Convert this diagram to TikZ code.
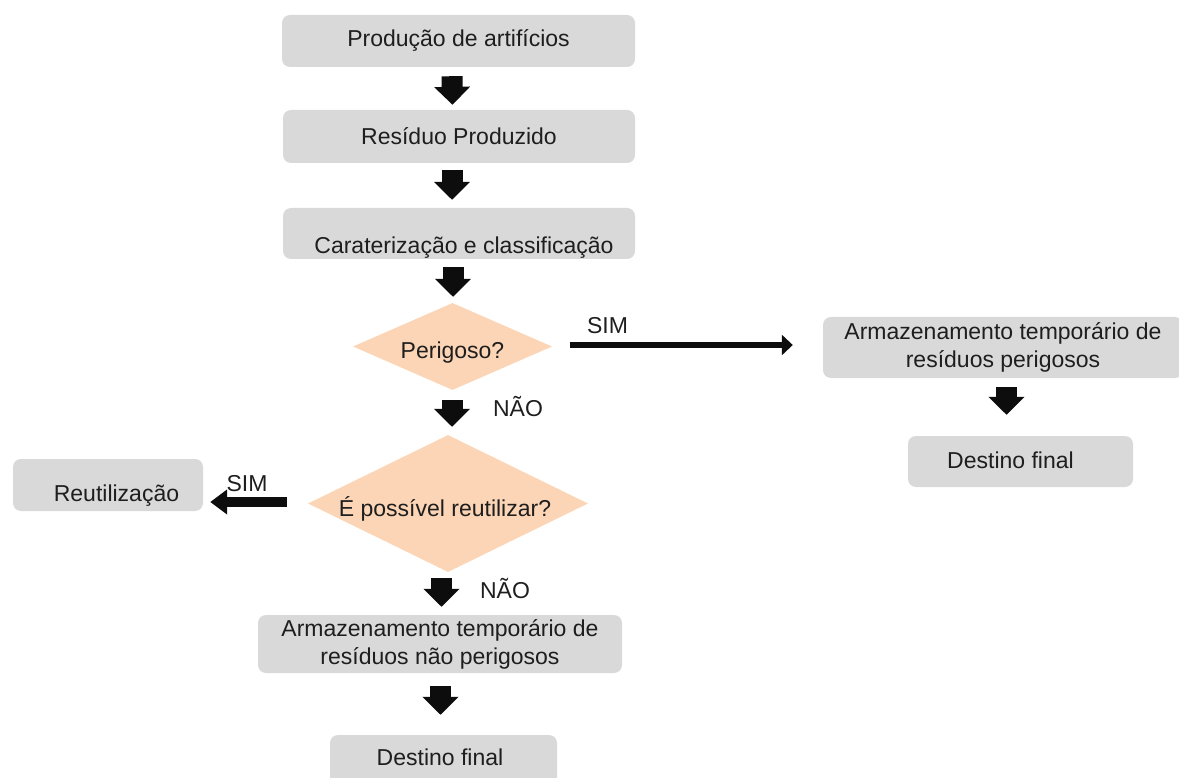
\documentclass[tikz,border=0pt]{standalone}
\usepackage{fontspec}
\setmainfont{Liberation Sans}
\usetikzlibrary{shapes.geometric,arrows.meta}
\definecolor{boxgray}{HTML}{D9D9D9}
\definecolor{peach}{HTML}{FBD5B5}
\definecolor{ink}{HTML}{1E1E1E}
\definecolor{arrowink}{HTML}{0D0D0D}
\begin{document}
\begin{tikzpicture}[x=1pt,y=-1pt,
  every node/.style={font=\fontsize{23}{28}\selectfont, text=ink},
  boxbase/.style={rectangle, rounded corners=8pt, fill=boxgray, inner sep=0pt, align=center},
  procbox/.style={boxbase, text height=16.6pt, text depth=0pt},
  decision/.style={diamond, fill=peach, inner sep=0pt, text depth=0pt},
  lbl/.style={inner sep=0pt, text height=16.6pt, text depth=0pt},
  blk/.style={draw=arrowink, line width=21pt, -{Triangle[length=18pt,width=35pt]}},
  sidearrowthin/.style={draw=arrowink, line width=6pt, -{Triangle[length=11pt,width=20pt]}},
  sidearrowthick/.style={draw=arrowink, line width=10pt, -{Triangle[length=17pt,width=24pt]}}
]
\useasboundingbox (0,0) rectangle (1179,778);
\clip (0,0) rectangle (1179,778);

% main column
\node[procbox, minimum width=353pt, minimum height=52pt, text height=10.6pt] (b1) at (458.5,41) {Produção de artifícios};
\node[procbox, minimum width=352pt, minimum height=53pt] (b2) at (459,136.5) {Resíduo Produzido};
\node[procbox, minimum width=352pt, minimum height=51pt, text height=39.6pt] (b3) at (459,233.5) {\hspace*{10pt}Caraterização e classificação};
\node[decision, minimum width=199pt, minimum height=87pt, shape aspect=2.29, text height=23.6pt] (d1) at (452.5,346.5) {Perigoso?};
\node[decision, minimum width=280pt, minimum height=137pt, shape aspect=2.04, text height=25.6pt] (d2) at (448,503.5) {\hspace*{-6pt}É possível reutilizar?};
\node[boxbase, minimum width=364pt, minimum height=58pt] (lb) at (440,644) {Armazenamento temporário de\\resíduos não perigosos};
\node[procbox, minimum width=227pt, minimum height=51pt, text height=9.6pt] (df) at (443.5,760.5) {\hspace*{-7pt}Destino final};

% right branch
\node[boxbase, minimum width=360pt, minimum height=61pt] (rb) at (1003,347.5) {Armazenamento temporário de\\resíduos perigosos};
\node[procbox, minimum width=225pt, minimum height=51pt, text height=13.6pt] (rdf) at (1020.5,461.5) {\hspace*{-20pt}Destino final};

% left branch
\node[procbox, minimum width=190pt, minimum height=52pt, text height=32.6pt] (re) at (108,485) {\hspace*{17pt}Reutilização};

% labels
\node[lbl] (sim1) at (607.5,325) {SIM};
\node[lbl] (nao1) at (518,408) {NÃO};
\node[lbl] (sim2) at (247,483) {SIM};
\node[lbl] (nao2) at (505,590) {NÃO};

% block arrows
\draw[blk] ([xshift=-6.5pt,yshift=-9pt]b1.south) -- ([xshift=-6.5pt,yshift=5pt]b2.north);
\draw[blk] ([xshift=-7pt,yshift=-7pt]b2.south) -- ([xshift=-7pt,yshift=8pt]b3.north);
\draw[blk] ([xshift=-6pt,yshift=-8pt]b3.south) -- ([xshift=0.5pt,yshift=6pt]d1.north);
\draw[blk] ([xshift=-0.5pt,yshift=-10pt]d1.south) -- ([xshift=4pt,yshift=8pt]d2.north);
\draw[blk] ([xshift=-6.5pt,yshift=-6pt]d2.south) -- ([xshift=1.5pt,yshift=8pt]lb.north);
\draw[blk] ([xshift=0.5pt,yshift=-13pt]lb.south) -- ([xshift=-3pt,yshift=20pt]df.north);
\draw[blk] ([xshift=3.5pt,yshift=-9pt]rb.south) -- ([xshift=-14pt,yshift=21pt]rdf.north);

% side arrows
\draw[sidearrowthin] ([xshift=18pt,yshift=1.5pt]d1.east) -- ([xshift=-30pt,yshift=2.5pt]rb.west);
\draw[sidearrowthick] ([xshift=-21pt,yshift=1.5pt]d2.west) -- ([xshift=7pt,yshift=-17pt]re.east);
\end{tikzpicture}
\end{document}
